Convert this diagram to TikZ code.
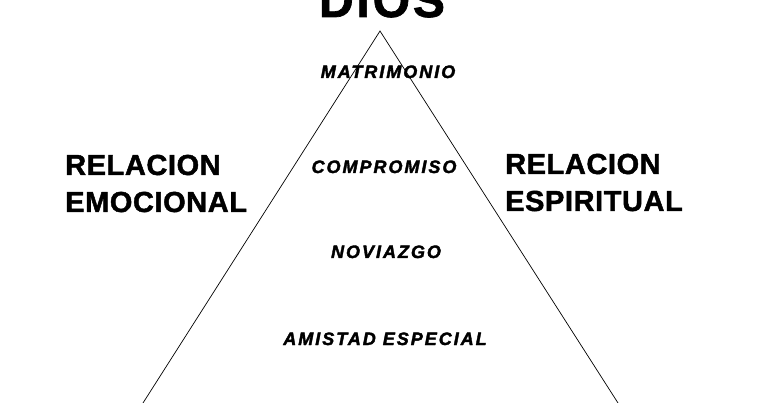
\documentclass[tikz,border=0pt]{standalone}
\usepackage{fontspec}
\setmainfont{Liberation Sans}
\begin{document}
\begin{tikzpicture}[x=1pt,y=-1pt,
  bigtxt/.style={font=\fontsize{29}{34}\selectfont\bfseries\addfontfeature{LetterSpace=2,FakeBold=1.5}, anchor=base west, inner sep=0pt},
  midtxt/.style={font=\fontsize{18}{20}\selectfont\bfseries\itshape\addfontfeature{LetterSpace=11,FakeBold=2}, anchor=base, inner sep=0pt},
  titletxt/.style={font=\fontsize{48}{52}\selectfont\bfseries\addfontfeature{LetterSpace=6,FakeBold=1.5}, anchor=base, inner sep=0pt},
  side/.style={line width=0.7pt}]
\useasboundingbox (0,0) rectangle (768,403);
\fill[white] (0,0) rectangle (768,403);
\clip (0,0) rectangle (768,403);
\node[titletxt] (dios) at (382,17) {DIOS};
\coordinate (apex) at (380,31);
\coordinate (bl) at (143,403);
\coordinate (br) at (618,403);
\draw[side] (bl) -- (apex) -- (br);
\node[midtxt] (matri) at (388,78) {MATRIMONIO};
\node[midtxt] (compro) at (384,173) {COMPROMISO};
\node[midtxt] (novia) at (386,258) {NOVIAZGO};
\node[midtxt] (amistad) at (385,345) {AMISTAD ESPECIAL};
\node[bigtxt] (rel1) at (65,175) {RELACION};
\node[bigtxt] (emo) at (65,212) {EMOCIONAL};
\node[bigtxt] (rel2) at (505,174) {RELACION};
\node[bigtxt] (esp) at (505,211) {ESPIRITUAL};
\end{tikzpicture}
\end{document}
